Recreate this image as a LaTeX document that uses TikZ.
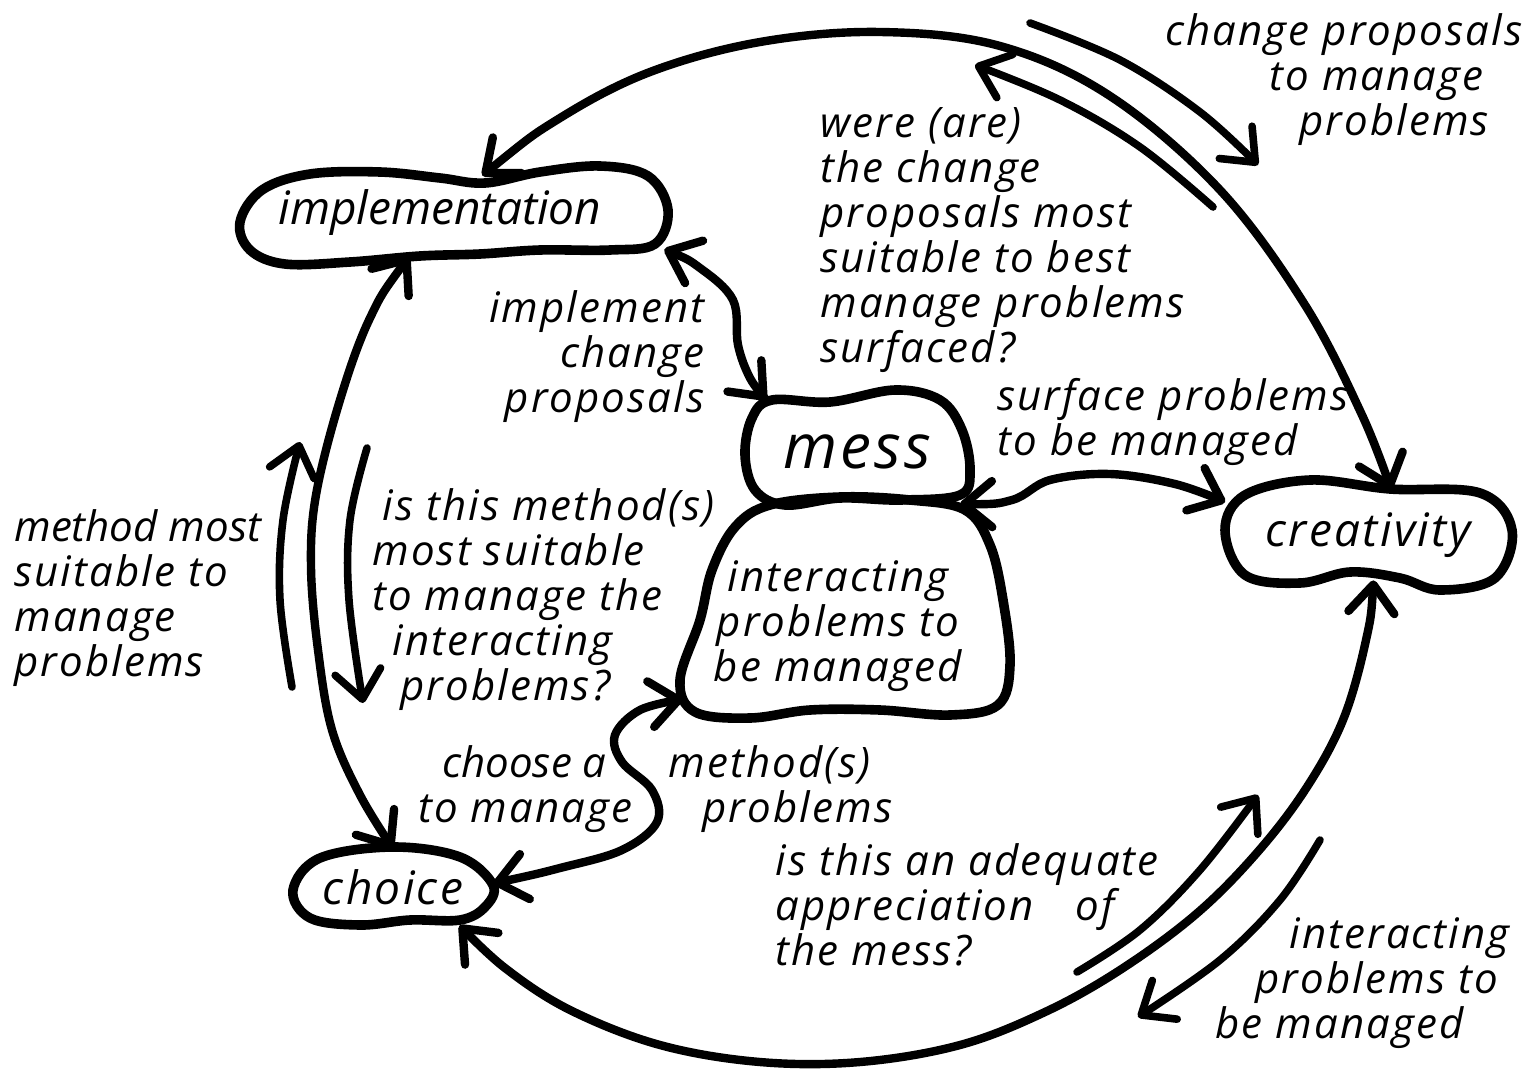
\documentclass[tikz,border=0pt]{standalone}
\usepackage{fontspec}
\setmainfont{Open Sans}[LetterSpace=5]
\usetikzlibrary{arrows.meta}
\begin{document}
\begin{tikzpicture}[x=0.5pt,y=-0.5pt,
  blob/.style={line width=4.8pt, line join=round},
  tipx/.tip={Straight Barb[length=14pt,width=23pt,round]},
  conn/.style={line width=4.2pt, line cap=round, tipx-tipx},
  side/.style={line width=3.8pt, line cap=round, -tipx},
  area/.style={inner sep=0pt, draw=none, align=center},
  lab/.style={inner sep=0pt, font=\fontsize{21}{22.5}\selectfont\itshape, align=left},
  nm/.style={font=\fontsize{23}{25}\selectfont\itshape}
]
\useasboundingbox (0,0) rectangle (1540,1076);
\fill[white] (0,0) rectangle (1540,1076);

% ---------- nodes (areas) ----------
\node[area, minimum width=210pt, minimum height=40pt] (impl) at (454,216) {};
\node[area, nm, minimum width=142.5pt, minimum height=45pt] (crea) at (1368,535) {creativity};
\node[area, nm, minimum width=100pt, minimum height=38pt] (choice) at (393,887) {choice};
\node[area, minimum width=110pt, minimum height=52pt, font=\fontsize{31}{33}\selectfont\itshape] (mess) at (857,452) {mess};
\node[area, minimum width=160pt, minimum height=105pt] (inter) at (843,614) {};

% ---------- blob outlines ----------
\draw[blob] plot[smooth cycle, tension=0.6] coordinates {(240,222) (262,190) (310,174) (380,172) (440,178) (485,183) (540,172) (600,166) (648,176) (668,210) (655,244) (610,250) (540,250) (480,254) (420,256) (350,262) (285,264) (250,250)};
\draw[blob] plot[smooth cycle, tension=0.6] coordinates {(1225,530) (1245,495) (1310,480) (1390,489) (1480,493) (1512,530) (1495,578) (1440,590) (1400,578) (1350,572) (1300,583) (1245,575)};
\draw[blob] plot[smooth cycle, tension=0.6] coordinates {(293,890) (320,858) (393,847) (460,857) (493,885) (485,907) (460,920) (410,920) (360,925) (310,918)};
\draw[blob] plot[smooth cycle, tension=0.6] coordinates {(745,455) (752,418) (772,400) (830,402) (895,390) (940,400) (962,430) (970,470) (960,495) (900,500) (840,498) (785,505) (755,490)};
\draw[blob] plot[smooth cycle, tension=0.6] coordinates {(735,527) (770,505) (840,497) (910,500) (965,510) (990,545) (1003,600) (1010,665) (998,705) (950,715) (880,710) (810,710) (750,718) (695,712) (680,680) (700,620) (712,570)};

% ---------- names inside blobs ----------
\node[nm, inner sep=0pt] (implT) at (440,213) {\addfontfeatures{LetterSpace=0}implementation};
\node[inner sep=0pt, align=center, font=\fontsize{21}{22.5}\selectfont\itshape] (interT) at (838,626) {interacting\\problems to\\be managed};

% ---------- connectors ----------
\draw[conn] plot[smooth, tension=0.6] coordinates {(impl.55) (560,118) (650,72) (760,42) (880,32) (1000,46) (1110,96) (1220,190) (1305,305) (1362,415) (crea.63)};
\draw[conn] plot[smooth, tension=0.6] coordinates {(crea.-83) (1366,640) (1343,720) (1305,790) (1255,855) (1195,915) (1120,970) (1045,1012) (960,1045) (860,1062) (760,1062) (660,1045) (570,1010) (505,968) (choice.-30)};
\draw[conn] plot[smooth, tension=0.6] coordinates {(impl.-138) (370,318) (340,400) (316,495) (311,567) (318,650) (332,730) (360,795) (choice.90)};
\draw[conn] plot[smooth, tension=0.6] coordinates {(impl.-9) (700,268) (733,300) (738,345) (750,378) (mess.150)};
\draw[conn] plot[smooth, tension=0.6] coordinates {(mess.-27) (1012,500) (1050,480) (1110,474) (1175,484) (crea.167)};
\draw[conn] plot[smooth, tension=0.6] coordinates {(choice.2) (560,868) (622,850) (657,822) (652,790) (622,762) (615,735) (640,710) (inter.-152)};

% ---------- side arrows ----------
\draw[side] plot[smooth, tension=0.6] coordinates {(1030,23) (1120,60) (1200,112) (1258,165)};
\draw[side] plot[smooth, tension=0.6] coordinates {(1213,207) (1140,147) (1060,100) (975,65)};
\draw[side] plot[smooth, tension=0.6] coordinates {(292,687) (280,600) (283,520) (300,442)};
\draw[side] plot[smooth, tension=0.6] coordinates {(367,448) (350,520) (349,600) (363,703)};
\draw[side] plot[smooth, tension=0.6] coordinates {(1077,972) (1140,930) (1200,870) (1258,795)};
\draw[side] plot[smooth, tension=0.6] coordinates {(1320,840) (1280,900) (1220,960) (1138,1017)};

% ---------- labels ----------
\node[lab, anchor=west] (t1) at (1165,80) {change proposals\\\hspace*{52pt}to manage\\\hspace*{67pt}problems};
\node[lab, anchor=west] (t2) at (820,240) {were (are)\\the change\\proposals most\\suitable to best\\manage problems\\surfaced?};
\node[lab, anchor=east, align=right] (t3) at (705,357) {implement\\change\\proposals};
\node[lab, anchor=west] (t4) at (997,422) {surface problems\\to be managed};
\node[lab, anchor=west] (t5) at (14,598) {\addfontfeatures{LetterSpace=0}method most\\suitable to\\manage\\problems};
\node[lab, anchor=west] (t6) at (372,600) {\hspace*{5pt}is this method(s)\\most suitable\\to manage the\\\hspace*{10pt}interacting\\\hspace*{14pt}problems?};
\node[lab, anchor=west] (t12) at (418,789) {\addfontfeatures{LetterSpace=0}\hspace*{12pt}choose a\\to manage};
\node[lab, anchor=west] (t13) at (668,789) {method(s)\\\hspace*{17pt}problems};
\node[lab, anchor=west] (t14) at (775,905) {is this an adequate\\appreciation\quad of\\the mess?};
\node[lab, anchor=west] (t15) at (1215,983) {\hspace*{37pt}interacting\\\hspace*{20pt}problems to\\be managed};
\end{tikzpicture}
\end{document}
